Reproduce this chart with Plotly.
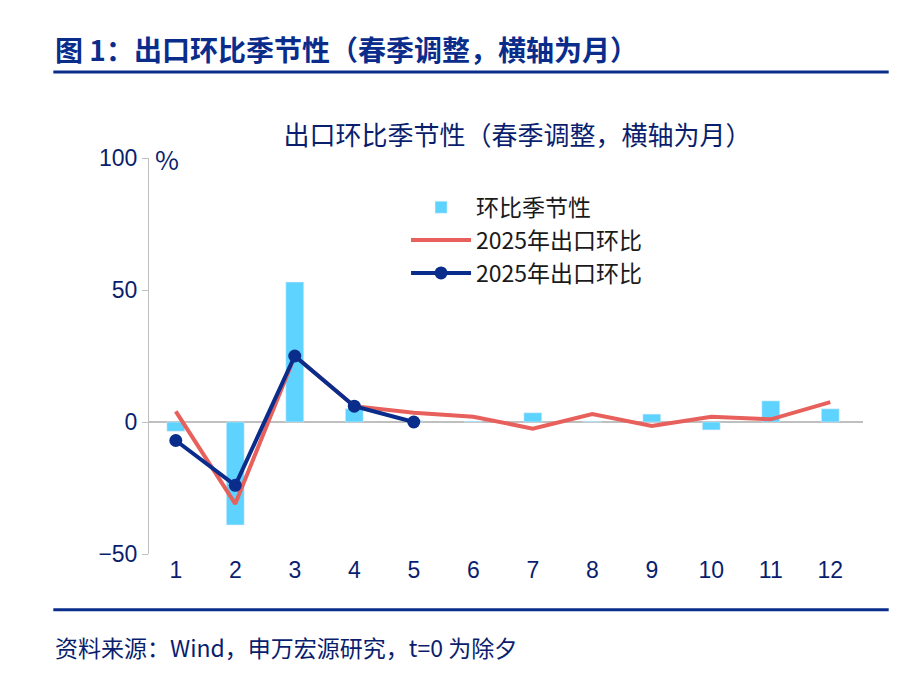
import plotly.graph_objects as go

months = [1, 2, 3, 4, 5, 6, 7, 8, 9, 10, 11, 12]
seasonal = [-3.5, -39, 53, 5, 0.5, 0.3, 3.5, 0.3, 3, -3, 8, 5]
red_mom = [4, -31, 25, 6, 3.5, 2, -2.5, 3, -1.5, 2, 1, 7.5]
blue_months = [1, 2, 3, 4, 5]
blue_mom = [-7, -24, 25, 6, 0]

navy = '#0A2D8C'
fig = go.Figure()
fig.add_trace(go.Bar(x=months, y=seasonal, name='环比季节性', marker_color='#5FD3FF', width=0.3))
fig.add_trace(go.Scatter(x=months, y=red_mom, name='2025年出口环比', mode='lines',
                         line=dict(color='#E8605C', width=4)))
fig.add_trace(go.Scatter(x=blue_months, y=blue_mom, name='2025年出口环比', mode='lines+markers',
                         line=dict(color=navy, width=4), marker=dict(size=13, color=navy)))

fig.update_layout(
    width=910, height=696, plot_bgcolor='white', paper_bgcolor='white',
    font=dict(family='Noto Sans CJK SC', size=20, color='#1a1a1a'),
    margin=dict(l=141, r=55, t=150, b=150),
    showlegend=True,
    legend=dict(x=0.36, y=0.93, xanchor='left', yanchor='top', bgcolor='rgba(0,0,0,0)',
                font=dict(size=23), tracegroupgap=12, itemwidth=60),
    title=dict(text='出口环比季节性（春季调整，横轴为月）', x=0.56, xanchor='center', y=0.83,
               font=dict(size=26, color='#0A1E6E')),
    annotations=[
        dict(text='<b>图 1：出口环比季节性（春季调整，横轴为月）</b>', xref='paper', yref='paper',
             x=-0.134, y=1.275, xanchor='left', yanchor='middle', showarrow=False,
             font=dict(size=28, color='#0A2D8C')),
        dict(text='资料来源：Wind，申万宏源研究，t=0 为除夕', xref='paper', yref='paper',
             x=-0.134, y=-0.235, xanchor='left', yanchor='middle', showarrow=False,
             font=dict(size=23, color='#0A1E6E')),
        dict(text='%', xref='paper', yref='paper', x=0.025, y=1.0, xanchor='center', yanchor='middle',
             showarrow=False, font=dict(size=26, color='#0A1E6E')),
    ],
    shapes=[
        dict(type='line', xref='paper', yref='paper', x0=-0.134, x1=1.036, y0=1.217, y1=1.217,
             line=dict(color='#0A2D8C', width=3)),
        dict(type='line', xref='paper', yref='paper', x0=-0.134, x1=1.036, y0=-0.141, y1=-0.141,
             line=dict(color='#0A2D8C', width=3)),
    ],
)
fig.update_xaxes(range=[0.55, 12.55], tickvals=months, showline=False, showgrid=False,
                 ticks='', tickfont=dict(size=23, color='#0A1E6E', family='Liberation Sans'))
fig.update_yaxes(range=[-50, 100], tickvals=[-50, 0, 50, 100], showgrid=False, zeroline=True,
                 zerolinecolor='#BFBFBF', zerolinewidth=1.5, showline=True, linecolor='#BFBFBF',
                 ticks='outside', ticklen=6, tickcolor='#BFBFBF', ticksuffix='  ',
                 tickfont=dict(size=23, color='#0A1E6E', family='Liberation Sans'))

fig.write_html('out.html')
